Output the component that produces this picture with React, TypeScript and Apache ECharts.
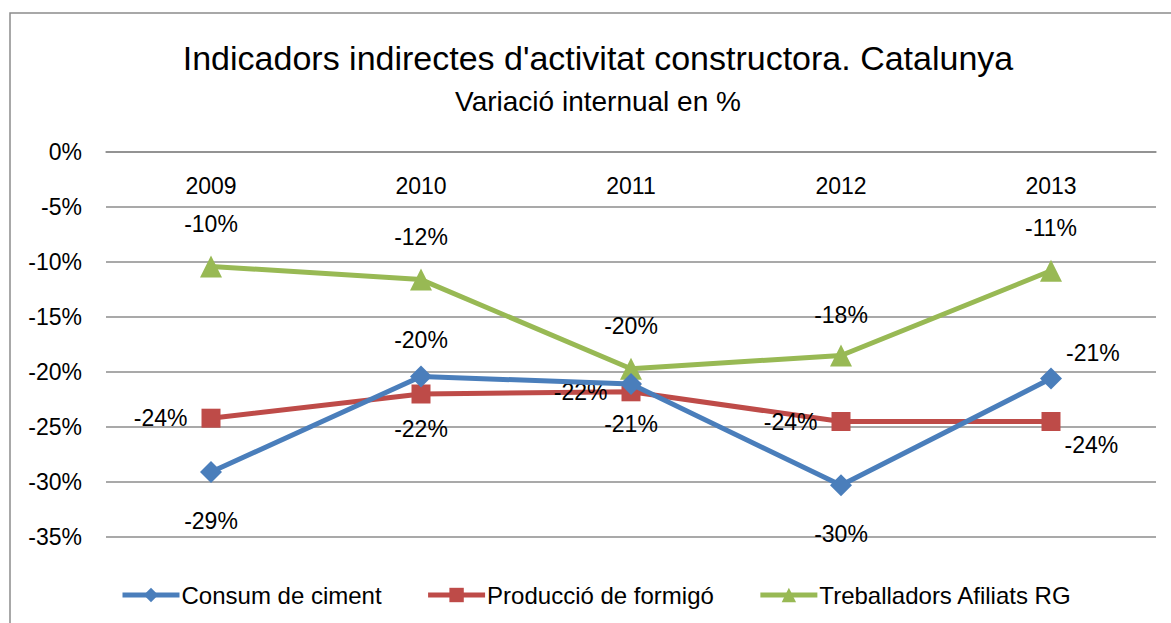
import React, { useEffect, useRef } from "react";
import * as echarts from "echarts";

const years = ["2009", "2010", "2011", "2012", "2013"];
const consumCiment = [-29.1, -20.4, -21.1, -30.3, -20.6];
const produccioFormigo = [-24.2, -22.0, -21.8, -24.5, -24.5];
const treballadorsAfiliats = [-10.4, -11.6, -19.7, -18.5, -10.8];
const seriesNames = ["Consum de ciment", "Producció de formigó", "Treballadors Afiliats RG"];
const titleText = "Indicadors indirectes d'activitat constructora. Catalunya";
const subtitleText = "Variació internual en %";

const FONT = "'Liberation Sans', sans-serif";

export default function App() {
  const ref = useRef<HTMLDivElement>(null);
  useEffect(() => {
    document.body.style.margin = "0";
    const chart = echarts.init(ref.current!, null, { renderer: "svg" });
    const lbl = (v: number) => `${Math.round(v)}%`;
    const labelBase = {
      show: true,
      fontSize: 23,
      color: "#000",
      fontFamily: FONT,
      formatter: (p: any) => lbl(p.value),
    };
    const mk = (vals: number[], cfg: any[]) =>
      vals.map((v, i) => ({ value: v, label: { ...labelBase, ...cfg[i] } }));
    chart.setOption({
      animation: false,
      textStyle: { fontFamily: FONT },
      graphic: [
        {
          type: "rect",
          shape: { x: 10, y: 13, width: 1170, height: 620 },
          style: { fill: "none", stroke: "#8c8c8c", lineWidth: 1.5 },
          silent: true,
        },
        {
          type: "text",
          x: 598,
          y: 58,
          style: {
            text: titleText,
            fontSize: 34,
            fontFamily: FONT,
            fill: "#000",
            align: "center",
            verticalAlign: "middle",
          },
        },
        {
          type: "text",
          x: 598,
          y: 101,
          style: {
            text: subtitleText,
            fontSize: 28,
            fontFamily: FONT,
            fill: "#000",
            align: "center",
            verticalAlign: "middle",
          },
        },
      ],
      legend: {
        left: 115,
        top: 578,
        itemWidth: 57,
        itemHeight: 18,
        itemGap: 44,
        lineStyle: { width: 5 },
        textStyle: { fontSize: 24, color: "#000", fontFamily: FONT, padding: [0, 0, 0, -3] },
        data: seriesNames,
      },
      grid: { left: 106, right: 15, top: 152, bottom: 86 },
      xAxis: {
        type: "category",
        data: years,
        position: "top",
        boundaryGap: true,
        axisLine: { show: true, lineStyle: { color: "#8c8c8c", width: 1.5 } },
        axisTick: { show: false },
        axisLabel: { inside: true, margin: 22, fontSize: 23, color: "#000", fontFamily: FONT },
        splitLine: { show: false },
      },
      yAxis: {
        type: "value",
        min: -35,
        max: 0,
        interval: 5,
        axisLine: { show: false },
        axisTick: { show: false },
        axisLabel: { fontSize: 23, color: "#000", margin: 24, fontFamily: FONT, formatter: (v: number) => `${v}%` },
        splitLine: { lineStyle: { color: "#8c8c8c", width: 1.5 } },
      },
      series: [
        {
          name: seriesNames[0],
          type: "line",
          symbol: "diamond",
          symbolSize: 22,
          color: "#4A7EBB",
          lineStyle: { width: 5, color: "#4A7EBB" },
          itemStyle: { color: "#4A7EBB" },
          z: 3,
          data: mk(consumCiment, [
            { position: "bottom", distance: 26 },
            { position: "top", distance: 14 },
            { position: "bottom", distance: 17 },
            { position: "bottom", distance: 26 },
            { position: "right", distance: 0, offset: [4, -26] },
          ]),
        },
        {
          name: seriesNames[1],
          type: "line",
          symbol: "rect",
          symbolSize: 19,
          color: "#BE4B48",
          lineStyle: { width: 5, color: "#BE4B48" },
          itemStyle: { color: "#BE4B48" },
          z: 2,
          data: mk(produccioFormigo, [
            { position: "left", distance: 14 },
            { position: "bottom", distance: 14 },
            { position: "left", distance: 14 },
            { position: "left", distance: 14 },
            { position: "right", distance: 0, offset: [4, 23] },
          ]),
        },
        {
          name: seriesNames[2],
          type: "line",
          symbol: "triangle",
          symbolSize: 22,
          color: "#98B954",
          lineStyle: { width: 5, color: "#98B954" },
          itemStyle: { color: "#98B954" },
          z: 1,
          data: mk(treballadorsAfiliats, [
            { position: "top", distance: 20 },
            { position: "top", distance: 20 },
            { position: "top", distance: 20 },
            { position: "top", distance: 18 },
            { position: "top", distance: 20 },
          ]),
        },
      ],
    });
    return () => chart.dispose();
  }, []);
  return <div ref={ref} style={{ width: 1171, height: 623 }} />;
}
